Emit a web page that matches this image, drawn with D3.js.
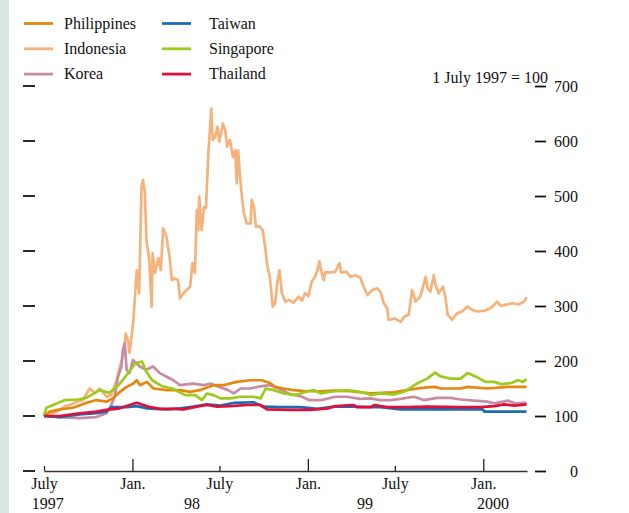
<!DOCTYPE html>
<html>
<head>
<meta charset="utf-8">
<script src="https://cdn.jsdelivr.net/npm/d3@7"></script>
<style>
  html, body { margin: 0; padding: 0; background: #fff; }
  svg { display: block; font-family: "Liberation Serif", "Times New Roman", serif; }
</style>
</head>
<body>
<script>
// index values, 1 July 1997 = 100
const philippines = [
  ["1997-07-01",100],["1997-07-13",108],["1997-08-03",112],["1997-08-30",115],["1997-09-28",124],
  ["1997-10-18",129],["1997-11-08",126],["1997-11-21",132],["1997-12-06",144],["1997-12-20",153],
  ["1998-01-03",159],["1998-01-10",165],["1998-01-17",156],["1998-01-31",162],["1998-02-14",150],
  ["1998-03-13",147],["1998-04-10",147],["1998-05-01",144],["1998-05-21",147],["1998-06-18",156],
  ["1998-07-09",156],["1998-08-06",162],["1998-09-03",165],["1998-09-27",165],["1998-10-14",160],
  ["1998-10-25",153],["1998-11-11",150],["1998-12-02",147],["1998-12-30",145],["1999-01-27",145],
  ["1999-02-24",146],["1999-03-30",145],["1999-05-11",141],["1999-06-28",143],["1999-07-26",147],
  ["1999-08-16",150],["1999-09-06",152],["1999-09-23",153],["1999-10-04",150],["1999-11-15",150],
  ["1999-11-29",153],["2000-01-10",150],["2000-02-21",153],["2000-03-31",153]
];
const indonesia = [
  ["1997-07-01",100],["1997-07-13",102],["1997-08-03",111],["1997-08-13",118],["1997-08-24",120],
  ["1997-09-05",125],["1997-09-20",129],["1997-10-04",150],["1997-10-15",142],["1997-10-25",150],
  ["1997-11-08",135],["1997-11-18",138],["1997-11-29",165],["1997-12-06",190],["1997-12-14",215],
  ["1997-12-18",250],["1997-12-22",240],["1997-12-26",215],["1997-12-31",250],["1998-01-03",275],
  ["1998-01-10",365],["1998-01-15",323],["1998-01-20",517],["1998-01-23",529],["1998-01-27",505],
  ["1998-01-30",420],["1998-02-05",384],["1998-02-10",299],["1998-02-12",396],["1998-02-17",360],
  ["1998-02-24",387],["1998-03-01",365],["1998-03-06",441],["1998-03-13",426],["1998-03-20",384],
  ["1998-03-24",347],["1998-03-30",350],["1998-04-06",347],["1998-04-10",314],["1998-04-17",323],
  ["1998-04-24",329],["1998-05-01",335],["1998-05-06",378],["1998-05-11",360],["1998-05-15",475],
  ["1998-05-18",438],["1998-05-20",499],["1998-05-25",438],["1998-05-30",480],["1998-06-03",478],
  ["1998-06-08",578],["1998-06-14",659],["1998-06-17",602],["1998-06-22",608],["1998-06-27",626],
  ["1998-07-01",599],["1998-07-08",632],["1998-07-13",620],["1998-07-17",590],["1998-07-23",602],
  ["1998-07-29",571],["1998-08-03",583],["1998-08-06",523],["1998-08-09",583],["1998-08-13",535],
  ["1998-08-16",505],["1998-08-21",468],["1998-08-27",450],["1998-09-04",450],["1998-09-06",493],
  ["1998-09-11",480],["1998-09-15",444],["1998-09-22",445],["1998-09-29",438],["1998-10-04",408],
  ["1998-10-09",371],["1998-10-14",353],["1998-10-20",299],["1998-10-25",305],["1998-10-30",347],
  ["1998-11-03",365],["1998-11-08",323],["1998-11-15",308],["1998-11-22",311],["1998-12-02",306],
  ["1998-12-13",317],["1998-12-20",310],["1998-12-26",323],["1999-01-02",318],["1999-01-09",344],
  ["1999-01-16",353],["1999-01-21",365],["1999-01-25",381],["1999-01-30",359],["1999-02-03",347],
  ["1999-02-06",361],["1999-02-17",361],["1999-02-27",362],["1999-03-08",378],["1999-03-11",361],
  ["1999-03-23",362],["1999-03-30",353],["1999-04-10",356],["1999-04-20",352],["1999-04-27",335],
  ["1999-05-05",320],["1999-05-15",329],["1999-05-25",332],["1999-06-01",326],["1999-06-08",305],
  ["1999-06-15",296],["1999-06-18",275],["1999-06-25",276],["1999-07-02",277],["1999-07-13",271],
  ["1999-07-21",281],["1999-07-30",284],["1999-08-06",329],["1999-08-13",308],["1999-08-23",317],
  ["1999-09-03",353],["1999-09-07",333],["1999-09-13",326],["1999-09-20",356],["1999-09-23",341],
  ["1999-09-30",323],["1999-10-09",335],["1999-10-14",317],["1999-10-19",284],["1999-10-28",275],
  ["1999-11-08",287],["1999-11-18",290],["1999-11-29",299],["1999-12-09",293],["1999-12-19",290],
  ["2000-01-02",291],["2000-01-16",296],["2000-01-30",308],["2000-02-06",300],["2000-02-16",302],
  ["2000-03-01",305],["2000-03-15",303],["2000-03-26",308],["2000-03-31",316]
];
const korea = [
  ["1997-07-01",100],["1997-08-03",98],["1997-09-13",96],["1997-10-18",98],["1997-11-08",105],
  ["1997-11-18",120],["1997-11-25",135],["1997-12-02",171],["1997-12-09",190],["1997-12-12",220],
  ["1997-12-16",232],["1997-12-20",184],["1997-12-26",178],["1998-01-02",202],["1998-01-16",190],
  ["1998-01-30",184],["1998-02-13",190],["1998-02-27",178],["1998-03-27",165],["1998-04-10",156],
  ["1998-05-08",159],["1998-05-29",156],["1998-06-12",159],["1998-06-26",154],["1998-07-17",148],
  ["1998-07-31",141],["1998-08-14",150],["1998-09-03",150],["1998-09-24",154],["1998-10-14",156],
  ["1998-11-01",150],["1998-11-22",141],["1998-12-20",135],["1999-01-03",129],["1999-01-30",129],
  ["1999-02-27",135],["1999-03-23",135],["1999-04-20",131],["1999-05-11",132],["1999-06-01",129],
  ["1999-06-22",129],["1999-07-13",131],["1999-08-10",135],["1999-08-30",129],["1999-09-27",133],
  ["1999-10-25",133],["1999-11-15",130],["1999-12-13",128],["2000-01-10",126],["2000-01-24",123],
  ["2000-02-21",128],["2000-03-07",123],["2000-03-31",124]
];
const taiwan = [
  ["1997-07-01",100],["1997-08-03",98],["1997-09-13",103],["1997-10-18",105],["1997-11-08",108],
  ["1997-11-18",116],["1997-12-20",116],["1998-01-10",118],["1998-01-30",114],["1998-03-13",112],
  ["1998-04-10",114],["1998-05-08",117],["1998-06-05",121],["1998-07-03",119],["1998-08-01",124],
  ["1998-09-10",125],["1998-10-01",117],["1998-11-05",116],["1998-12-17",116],["1999-01-21",113],
  ["1999-02-24",117],["1999-04-06",117],["1999-05-11",116],["1999-06-01",116],["1999-07-13",112],
  ["1999-09-06",112],["1999-11-15",112],["1999-12-31",112],["2000-01-03",108],["2000-02-07",108],
  ["2000-03-31",108]
];
const singapore = [
  ["1997-07-01",100],["1997-07-06",115],["1997-07-20",120],["1997-08-14",129],["1997-09-10",130],
  ["1997-09-27",133],["1997-10-25",147],["1997-11-14",142],["1997-12-03",156],["1997-12-17",171],
  ["1998-01-07",196],["1998-01-21",199],["1998-01-28",183],["1998-02-11",165],["1998-03-04",154],
  ["1998-03-25",150],["1998-04-21",138],["1998-05-12",138],["1998-05-26",129],["1998-06-05",141],
  ["1998-06-19",138],["1998-07-03",132],["1998-07-24",132],["1998-08-14",135],["1998-09-10",135],
  ["1998-09-25",132],["1998-10-05",150],["1998-10-22",147],["1998-11-12",141],["1998-12-03",138],
  ["1998-12-17",141],["1998-12-31",145],["1999-01-14",147],["1999-01-28",141],["1999-02-24",145],
  ["1999-03-23",147],["1999-04-13",145],["1999-05-04",141],["1999-05-11",138],["1999-06-01",141],
  ["1999-06-29",139],["1999-07-20",144],["1999-08-16",159],["1999-09-06",168],["1999-09-23",179],
  ["1999-10-04",172],["1999-10-25",168],["1999-11-15",168],["1999-11-29",178],["1999-12-16",172],
  ["2000-01-06",162],["2000-01-24",162],["2000-02-07",158],["2000-02-28",160],["2000-03-13",165],
  ["2000-03-24",162],["2000-03-31",167]
];
const thailand = [
  ["1997-07-01",100],["1997-08-03",100],["1997-09-13",105],["1997-10-18",108],["1997-11-08",111],
  ["1997-12-06",114],["1997-12-26",120],["1998-01-10",124],["1998-01-24",120],["1998-02-07",116],
  ["1998-02-27",113],["1998-03-27",113],["1998-04-17",112],["1998-05-15",117],["1998-06-05",120],
  ["1998-06-26",117],["1998-07-24",118],["1998-08-28",120],["1998-09-24",120],["1998-10-08",112],
  ["1998-11-22",111],["1999-01-06",111],["1999-02-13",114],["1999-02-27",118],["1999-04-06",120],
  ["1999-04-13",116],["1999-05-11",116],["1999-05-20",120],["1999-06-01",118],["1999-06-15",116],
  ["1999-07-27",116],["1999-09-06",117],["1999-11-15",116],["1999-12-27",116],["2000-01-24",118],
  ["2000-02-14",121],["2000-03-07",119],["2000-03-31",121]
];

const legendNames = ["Philippines", "Indonesia", "Korea", "Taiwan", "Singapore", "Thailand"];
const yTicks = [0, 100, 200, 300, 400, 500, 600, 700];
const monthTicks = ["1997-07-01","1998-01-01","1998-07-01","1999-01-01","1999-07-01","2000-01-01"];
const yearLabels = [["1997-07-09","1997"],["1998-05-05","98"],["1999-04-30","99"],["2000-01-21","2000"]];

const width = 629, height = 513;
const parse = d3.timeParse("%Y-%m-%d");
const fontSize = 16;

const colors = {
  Philippines: "#e5860f", Indonesia: "#f6b27b", Korea: "#c98ba4",
  Taiwan: "#1b6db3", Singapore: "#9ccb1c", Thailand: "#df0f3b"
};
const seriesData = {
  Philippines: philippines, Indonesia: indonesia, Korea: korea,
  Taiwan: taiwan, Singapore: singapore, Thailand: thailand
};

const svg = d3.select("body").append("svg")
  .attr("width", width).attr("height", height);

svg.append("rect").attr("x", 0).attr("y", 0).attr("width", 9).attr("height", height)
  .attr("fill", "#d8e6e4");

const x = d3.scaleTime()
  .domain([parse("1997-07-01"), parse("2000-04-01")])
  .range([44, 527]);
const y = d3.scaleLinear().domain([0, 700]).range([471, 86]);

// lines
const line = d3.line()
  .x(d => x(parse(d[0])))
  .y(d => y(d[1]))
  .curve(d3.curveLinear);

["Indonesia", "Korea", "Philippines", "Singapore", "Taiwan", "Thailand"].forEach(name => {
  svg.append("path")
    .attr("fill", "none")
    .attr("stroke", colors[name])
    .attr("stroke-width", 2.7)
    .attr("stroke-linejoin", "round")
    .attr("d", line(seriesData[name]));
});

// x axis: line with ticks pointing up
const xAxis = svg.append("g")
  .attr("transform", "translate(0,471)")
  .call(d3.axisTop(x).tickValues(monthTicks.map(parse)).tickSizeInner(12).tickSizeOuter(0).tickFormat(""));
xAxis.select(".domain").attr("stroke", "#333").attr("stroke-width", 1.5);
xAxis.selectAll(".tick line")
  .attr("stroke", "#222").attr("stroke-width", 1.3)
  .attr("y2", d => d.getMonth() === 6 ? -5 : -12);

const monthLabels = svg.append("g")
  .attr("transform", "translate(0,471)")
  .call(d3.axisBottom(x).tickValues(monthTicks.map(parse)).tickSize(0).tickPadding(7)
    .tickFormat(d => d.getMonth() === 6 ? "July" : "Jan."));
monthLabels.select(".domain").remove();
monthLabels.selectAll("text").attr("font-size", fontSize).attr("fill", "#111")
  .attr("font-family", "Liberation Serif, Times New Roman, serif");

svg.append("g").selectAll("text").data(yearLabels).join("text")
  .attr("x", d => x(parse(d[0])))
  .attr("y", 509)
  .attr("text-anchor", "middle")
  .attr("font-size", fontSize).attr("fill", "#111")
  .text(d => d[1]);

// right axis
const yRight = svg.append("g")
  .attr("transform", "translate(535,0)")
  .call(d3.axisRight(y).tickValues(yTicks).tickSize(11).tickPadding(0));
yRight.select(".domain").remove();
yRight.selectAll(".tick line").attr("stroke", "#111").attr("stroke-width", 1.8);
yRight.selectAll(".tick text")
  .attr("x", 43).attr("text-anchor", "end")
  .attr("font-size", fontSize).attr("fill", "#111")
  .attr("font-family", "Liberation Serif, Times New Roman, serif");

// left ticks, no labels
svg.append("g").selectAll("line").data(yTicks).join("line")
  .attr("x1", 23).attr("x2", 35)
  .attr("y1", d => y(d)).attr("y2", d => y(d))
  .attr("stroke", "#111").attr("stroke-width", 1.8);

svg.append("text")
  .attr("x", 548).attr("y", 83)
  .attr("text-anchor", "end")
  .attr("font-size", fontSize).attr("fill", "#111")
  .text("1 July 1997 = 100");

// legend
const legend = svg.append("g").selectAll("g").data(legendNames).join("g")
  .attr("transform", (d, i) => "translate(" + (i < 3 ? 24 : 162) + "," + (23.5 + (i % 3) * 25.3) + ")");
legend.append("line")
  .attr("x1", 0).attr("x2", 29).attr("y1", 0).attr("y2", 0)
  .attr("stroke", d => colors[d]).attr("stroke-width", 2.8);
legend.append("text")
  .attr("x", d => legendNames.indexOf(d) < 3 ? 40 : 47)
  .attr("y", 5)
  .attr("font-size", fontSize).attr("fill", "#111")
  .text(d => d);
</script>
</body>
</html>
